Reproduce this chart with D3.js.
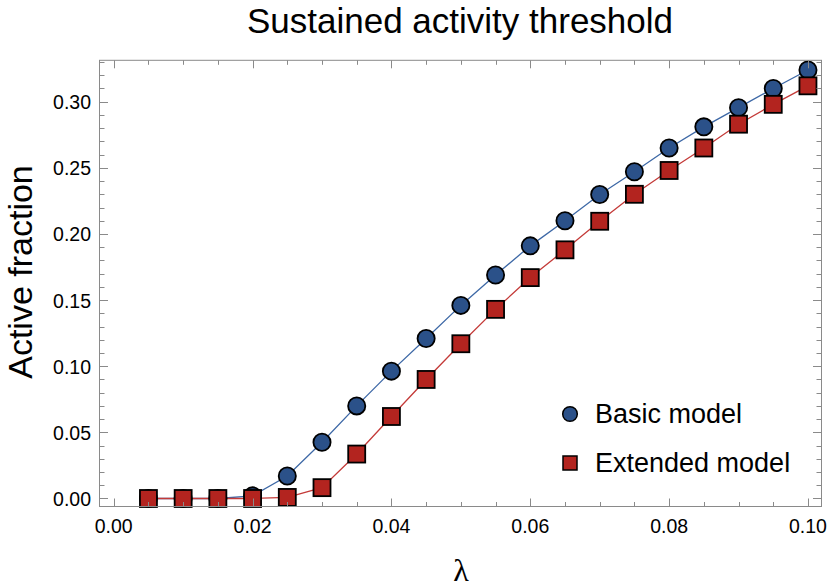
<!DOCTYPE html>
<html>
<head>
<meta charset="utf-8">
<script src="https://cdn.jsdelivr.net/npm/d3@7"></script>
<style>
  body { margin: 0; background: #fff; overflow: hidden; }
  svg { display: block; }
  text { font-family: "Liberation Sans", Arial, sans-serif; fill: #000; }
</style>
</head>
<body>
<script>
// data
var lambdas = [0.005, 0.01, 0.015, 0.02, 0.025, 0.03, 0.035, 0.04, 0.045, 0.05,
               0.055, 0.06, 0.065, 0.07, 0.075, 0.08, 0.085, 0.09, 0.095, 0.10];
var basicModel = [0, 0, 0, 0.002, 0.017, 0.0425, 0.070, 0.0963, 0.121, 0.146,
                  0.169, 0.191, 0.210, 0.2298, 0.247, 0.265, 0.281, 0.2955, 0.310, 0.324];
var extendedModel = [0, 0, 0, 0, 0.0008, 0.0082, 0.0336, 0.062, 0.090, 0.117,
                     0.143, 0.167, 0.188, 0.2096, 0.230, 0.248, 0.265, 0.283, 0.298, 0.312];
var xTickLabels = [0, 0.02, 0.04, 0.06, 0.08, 0.10];
var yTickLabels = [0, 0.05, 0.10, 0.15, 0.20, 0.25, 0.30];
var seriesNames = ["Basic model", "Extended model"];

var width = 830,
    height = 588;

var svg = d3.select("body")
    .append("svg")
    .attr("width", width)
    .attr("height", height);

// scales
var x = d3.scaleLinear()
    .domain([-0.00205, 0.10195])
    .range([99.5, 821.5]);

var y = d3.scaleLinear()
    .domain([-0.00605, 0.3313])
    .range([506.5, 60.3]);

var blue = "#2b5189", blueLine = "#3d68a6";
var red = "#b3241f", redLine = "#c43a38";

// lines
var line = d3.line()
    .x(function(d){ return x(d[0]); })
    .y(function(d){ return y(d[1]); });

var basicPts = lambdas.map(function(l, i){ return [l, basicModel[i]]; });
var extPts = lambdas.map(function(l, i){ return [l, extendedModel[i]]; });

svg.append("path")
    .datum(basicPts)
    .attr("d", line)
    .attr("fill", "none")
    .attr("stroke", blueLine)
    .attr("stroke-width", 1.3);

svg.append("path")
    .datum(extPts)
    .attr("d", line)
    .attr("fill", "none")
    .attr("stroke", redLine)
    .attr("stroke-width", 1.3);

// markers
svg.selectAll(".basic")
    .data(basicPts)
    .enter()
    .append("circle")
    .attr("class", "basic")
    .attr("cx", function(d){ return x(d[0]); })
    .attr("cy", function(d){ return y(d[1]); })
    .attr("r", 8.6)
    .attr("fill", blue)
    .attr("stroke", "#000")
    .attr("stroke-width", 1.8);

var sq = 17;
svg.selectAll(".ext")
    .data(extPts)
    .enter()
    .append("rect")
    .attr("class", "ext")
    .attr("x", function(d){ return x(d[0]) - sq / 2; })
    .attr("y", function(d){ return y(d[1]) - sq / 2; })
    .attr("width", sq)
    .attr("height", sq)
    .attr("fill", red)
    .attr("stroke", "#000")
    .attr("stroke-width", 1.8);

// frame with ticks on all four sides (drawn on top like the original)
var frameCol = "#8a8a8a", tickCol = "#8a8a8a";
var x0 = x.range()[0], x1 = x.range()[1], y0 = y.range()[0], y1 = y.range()[1];

var xMinor = d3.range(0, 0.1001, 0.005);
var yMinor = d3.range(0, 0.3301, 0.01);

function isMajor(v, step){ return Math.abs(v / step - Math.round(v / step)) < 1e-6; }

var ticks = svg.append("g").attr("stroke", tickCol).attr("stroke-width", 1);
xMinor.forEach(function(v){
    var len = isMajor(v, 0.02) ? 8 : 4.5;
    var px = Math.round(x(v)) + 0.5;
    ticks.append("line").attr("x1", px).attr("x2", px).attr("y1", y0).attr("y2", y0 - len);
    ticks.append("line").attr("x1", px).attr("x2", px).attr("y1", y1).attr("y2", y1 + len);
});
yMinor.forEach(function(v){
    var len = isMajor(v, 0.05) ? 8.5 : 5;
    var py = Math.round(y(v)) + 0.5;
    ticks.append("line").attr("x1", x0).attr("x2", x0 + len).attr("y1", py).attr("y2", py);
    ticks.append("line").attr("x1", x1).attr("x2", x1 - len).attr("y1", py).attr("y2", py);
});

svg.append("rect")
    .attr("x", x0)
    .attr("y", y1)
    .attr("width", x1 - x0)
    .attr("height", y0 - y1)
    .attr("fill", "none")
    .attr("stroke", frameCol)
    .attr("stroke-width", 1);

// tick labels
svg.selectAll(".xlab")
    .data(xTickLabels)
    .enter()
    .append("text")
    .attr("x", function(d){ return x(d); })
    .attr("y", 533)
    .attr("text-anchor", "middle")
    .style("font-size", "19.5px")
    .text(function(d){ return d3.format(".2f")(d); });

svg.selectAll(".ylab")
    .data(yTickLabels)
    .enter()
    .append("text")
    .attr("x", 91)
    .attr("y", function(d){ return y(d) + 7.5; })
    .attr("text-anchor", "end")
    .style("font-size", "19.5px")
    .text(function(d){ return d3.format(".2f")(d); });

// titles
svg.append("text")
    .attr("x", 460)
    .attr("y", 33)
    .attr("text-anchor", "middle")
    .style("font-size", "35px")
    .text("Sustained activity threshold");

svg.append("text")
    .attr("transform", "translate(32,272) rotate(-90)")
    .attr("text-anchor", "middle")
    .style("font-size", "34px")
    .text("Active fraction");

svg.append("text")
    .attr("x", 461)
    .attr("y", 581)
    .attr("text-anchor", "middle")
    .style("font-family", "'Liberation Serif', 'DejaVu Serif', serif")
    .style("font-size", "32px")
    .text("\u03bb");

// legend
var legend = svg.append("g");
legend.append("circle")
    .attr("cx", 570).attr("cy", 414).attr("r", 7.3)
    .attr("fill", blue).attr("stroke", "#000").attr("stroke-width", 1.5);
legend.append("rect")
    .attr("x", 563).attr("y", 456).attr("width", 14).attr("height", 14)
    .attr("fill", red).attr("stroke", "#000").attr("stroke-width", 1.5);
legend.append("text")
    .attr("x", 595).attr("y", 423)
    .style("font-size", "27px")
    .text(seriesNames[0]);
legend.append("text")
    .attr("x", 595).attr("y", 472)
    .style("font-size", "27px")
    .text(seriesNames[1]);
</script>
</body>
</html>
